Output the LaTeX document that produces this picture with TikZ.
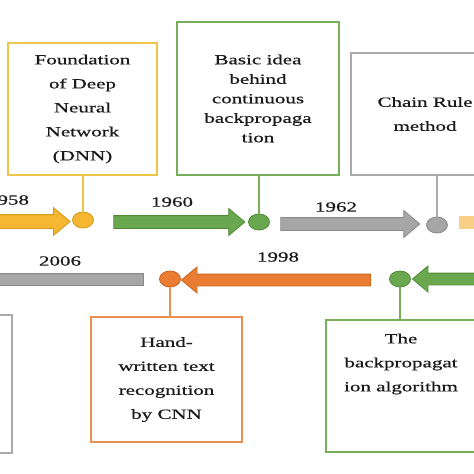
\documentclass[tikz,border=0pt]{standalone}
\usepackage{fontspec}
\setmainfont{Liberation Serif}[FakeStretch=1.5, FakeBold=0.6]
\usepackage{xcolor}
\usepackage{tikz}
\usetikzlibrary{shapes.geometric, shapes.arrows}

\definecolor{ink}{HTML}{1A1A1A}
\definecolor{goldfill}{HTML}{F5B731}
\definecolor{goldline}{HTML}{D39A1C}
\definecolor{goldbox}{HTML}{EEC547}
\definecolor{greenfill}{HTML}{6AA84F}
\definecolor{greenline}{HTML}{4E8A36}
\definecolor{greenbox}{HTML}{78AE5A}
\definecolor{grayfill}{HTML}{A6A6A6}
\definecolor{grayline}{HTML}{8A8A8A}
\definecolor{graybox}{HTML}{AAAAAA}
\definecolor{orangefill}{HTML}{EB7C33}
\definecolor{orangeline}{HTML}{C8631E}
\definecolor{orangebox}{HTML}{E98F50}
\definecolor{paleGold}{HTML}{F9CE86}

\tikzstyle{box} = [rectangle, line width=1.8pt, fill=white, align=center, text=ink, font=\fontsize{14}{24}\selectfont]
\tikzstyle{txt} = [align=center, text=ink, font=\fontsize{14}{24}\selectfont]
\tikzstyle{year} = [text=ink, font=\fontsize{14}{24}\selectfont]
\tikzstyle{dot} = [ellipse, minimum width=21pt, minimum height=16pt, inner sep=0pt, line width=0.8pt]
\tikzstyle{stem} = [line width=1.8pt]
\tikzstyle{tarrow} = [single arrow, line width=0.8pt, inner xsep=0pt, inner ysep=6pt, text height=0pt, text depth=0pt, minimum width=25pt, single arrow tip angle=80]
\tikzstyle{larrow} = [tarrow, shape border rotate=180]

\begin{document}
\begin{tikzpicture}[x=1pt, y=-1pt]
\useasboundingbox (0,0) rectangle (474,474);
\clip (0,0) rectangle (474,474);

% top row
\node[tarrow, fill=goldfill, draw=goldline, minimum height=106pt, inner ysep=6.5pt] (a58) at (13,221.5) {};
\node[tarrow, fill=greenfill, draw=greenline, minimum height=131pt] (a60) at (175.5,222) {};
\node[tarrow, fill=grayfill, draw=grayline, minimum height=139pt, minimum width=23pt] (a62) at (346.5,224) {};
\node[tarrow, fill=paleGold, draw=paleGold, minimum height=104pt, inner ysep=5.5pt] (anext) at (508,222.5) {};

\node[year] (y58) at (8,200) {1958};
\node[year] (y60) at (172,202) {1960};
\node[year] (y62) at (336,207) {1962};

\node[dot, fill=goldfill, draw=goldline] (c58) at (83,220) {};
\node[dot, fill=greenfill, draw=greenline] (c60) at (259,222) {};
\node[dot, fill=grayfill, draw=grayline] (c62) at (437,225) {};

\node[box, draw=goldbox, minimum width=149pt, minimum height=132pt] (found) at (82.5,109)
  {Foundation\\of Deep\\Neural\\Network\\(DNN)};
\node[box, draw=greenbox, minimum width=162pt, minimum height=153pt, font=\fontsize{14}{19.5}\selectfont] (basic) at (258,98.5)
  {Basic idea\\behind\\continuous\\backpropaga\\tion};
\node[box, draw=graybox, minimum width=148pt, minimum height=122pt] (chain) at (425,114)
  {Chain Rule\\method};

\draw[stem, goldbox] (found.south -| c58.north) -- (c58.north);
\draw[stem, greenbox] (basic.south -| c60.north) -- (c60.north);
\draw[stem, graybox] (chain.south -| c62.north) -- (c62.north);

% bottom row
\node[larrow, fill=grayfill, draw=grayline, minimum height=207pt, inner ysep=5.5pt] (a06) at (43.5,279.5) {};
\node[larrow, fill=orangefill, draw=orangeline, minimum height=189pt, inner ysep=5.5pt] (a98) at (279.5,280) {};
\node[larrow, fill=greenfill, draw=greenline, minimum height=104pt, inner ysep=5.5pt] (aback) at (468,279) {};

\node[year] (y06) at (60,261) {2006};
\node[year] (y98) at (278,257) {1998};

\node[dot, fill=orangefill, draw=orangeline] (c98) at (170,279) {};
\node[dot, fill=greenfill, draw=greenline] (cback) at (400,279) {};

\node[box, draw=graybox, minimum width=52pt, minimum height=138pt] (left) at (-14,384) {};
\node[box, draw=orangebox, minimum width=151pt, minimum height=125pt] (hand) at (166.5,379.5)
  {Hand-\\written text\\recognition\\by CNN};
\node[box, draw=greenbox, minimum width=150pt, minimum height=132pt] (back) at (401,386) {};
\node[txt] (backtxt) at (401,364) {The\\backpropagat\\ion algorithm};

\draw[stem, orangebox] (c98.south) -- (c98.south |- hand.north);
\draw[stem, greenbox] (cback.south) -- (cback.south |- back.north);
\end{tikzpicture}
\end{document}
